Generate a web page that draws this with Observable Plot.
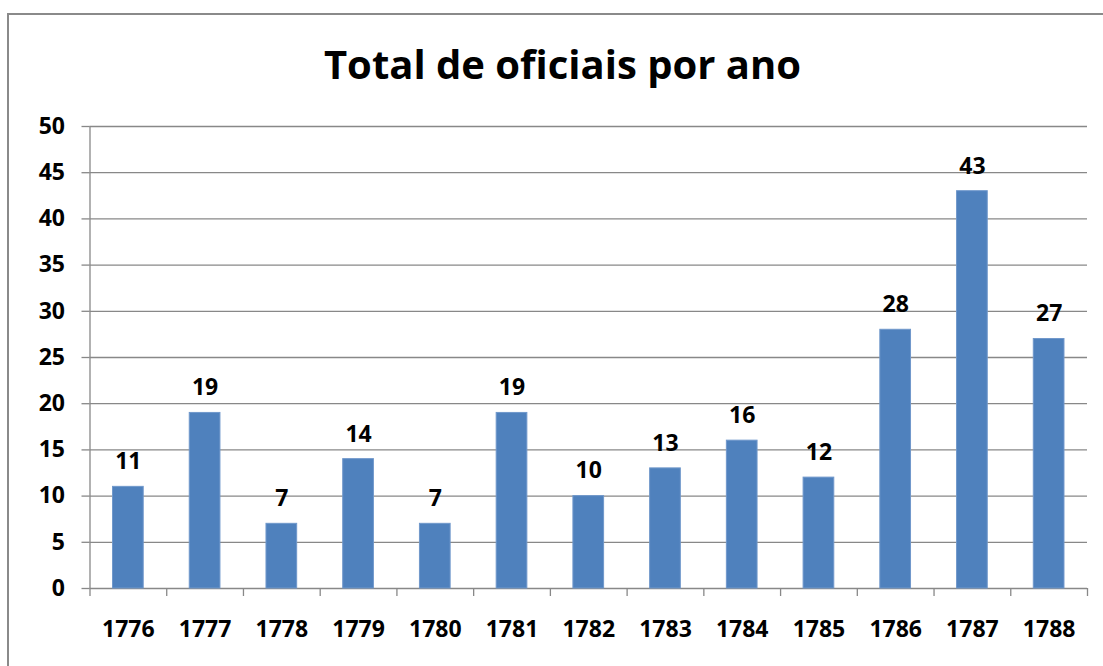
<!DOCTYPE html>
<html>
<head>
<meta charset="utf-8">
<script src="https://cdn.jsdelivr.net/npm/d3@7"></script>
<script src="https://cdn.jsdelivr.net/npm/@observablehq/plot@0.6"></script>
<style>
  html, body { margin: 0; padding: 0; background: #fff; }
  #wrap { position: relative; width: 1103px; height: 666px; overflow: hidden; background: #fff; }
  #frame { position: absolute; left: 7px; top: 13px; width: 1200px; height: 800px; border: 2px solid #8a8a8a; box-sizing: border-box; }
  #title { position: absolute; left: 0; top: 34px; width: 1125px; text-align: center; font-family: "Open Sans", Lato, sans-serif; font-weight: 700; font-size: 40px; line-height: 60px; color: #000; }
  #chart { position: absolute; left: 0; top: 100px; }
</style>
</head>
<body>
<div id="wrap">
  <div id="frame"></div>
  <div id="title">Total de oficiais por ano</div>
  <div id="chart"></div>
</div>
<script>
const categories = ["1776","1777","1778","1779","1780","1781","1782","1783","1784","1785","1786","1787","1788"];
const values = [11, 19, 7, 14, 7, 19, 10, 13, 16, 12, 28, 43, 27];
const yTicks = [0, 5, 10, 15, 20, 25, 30, 35, 40, 45, 50];

const data = categories.map((c, i) => ({year: c, i, value: values[i]}));
const centers = categories.map((c, i) => i + 0.5);
const boundaries = d3.range(0, categories.length + 1);
const font = "'Open Sans', Lato, sans-serif";
const grid = "#888888";

const chart = Plot.plot({
  width: 1103,
  height: 560,
  marginLeft: 89.5,
  marginRight: 16,
  marginTop: 26,
  marginBottom: 72,
  style: {fontFamily: font, fontSize: "23px", fontWeight: "700", color: "#000", background: "transparent", overflow: "visible"},
  x: {domain: [0, categories.length], axis: null},
  y: {domain: [0, 50], axis: null},
  marks: [
    Plot.ruleY(yTicks, {stroke: grid, strokeWidth: 1.3}),
    Plot.ruleX([0], {stroke: grid, strokeWidth: 1.3}),
    Plot.axisY({ticks: yTicks, tickSize: 8, tickPadding: 17, stroke: grid, strokeWidth: 1.3, strokeOpacity: 1, fontSize: 23, fontWeight: 700, fill: "#000", label: null}),
    Plot.axisX({ticks: boundaries, tickSize: 8, tickFormat: () => "", stroke: grid, strokeWidth: 1.3, strokeOpacity: 1, label: null}),
    Plot.axisX({ticks: centers, tickSize: 0, tickPadding: 32, tickFormat: d => categories[Math.floor(d)], fontSize: 23, fontWeight: 700, fill: "#000", label: null}),
    Plot.rectY(data, {x1: d => d.i + 0.3, x2: d => d.i + 0.7, y: "value", fill: "#4F81BD", stroke: "#7098CB", strokeWidth: 1}),
    Plot.text(data, {x: d => d.i + 0.5, y: "value", text: d => String(d.value), dy: -25, fontSize: 23, fontWeight: 700, fill: "#000"})
  ]
});
document.getElementById("chart").appendChild(chart);
</script>
</body>
</html>
